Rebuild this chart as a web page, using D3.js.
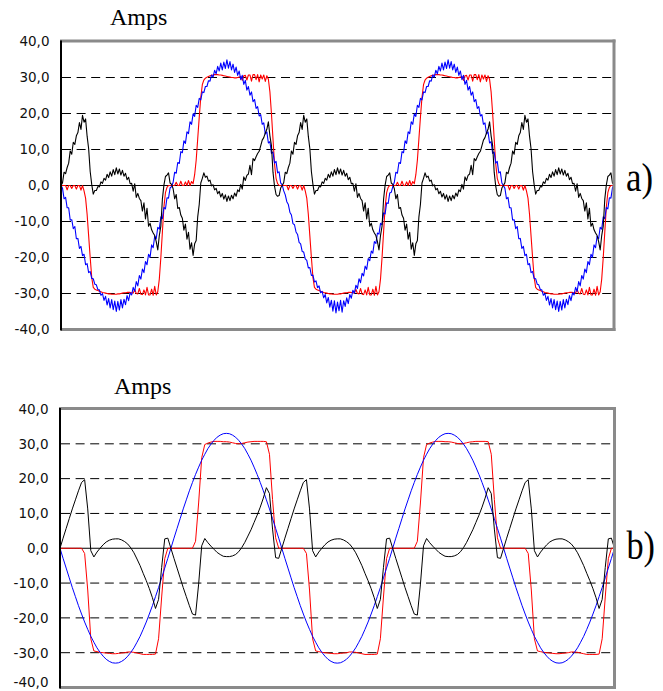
<!DOCTYPE html>
<html><head><meta charset="utf-8">
<script src="https://cdn.jsdelivr.net/npm/d3@7"></script>
<style>html,body{margin:0;padding:0;background:#fff;} svg{display:block;}</style>
</head><body>
<svg id="chart" width="663" height="691"></svg>
<script>
// ---------- data ----------
const yTicks = [-40, -30, -20, -10, 0, 10, 20, 30, 40];
const yTickLabels = ["-40,0", "-30,0", "-20,0", "-10,0", "0,0", "10,0", "20,0", "30,0", "40,0"];
const unitLabel = "Amps";
const panelLabels = ["a)", "b)"];
const angleMax = 900;      // electrical degrees shown (2.5 cycles)
const stepA = 2.5;         // sample step of the measured traces (deg)
const stepB = 5;           // sample step of the simulated traces (deg)

// a) measured currents (Amps), one value every 2.5 deg from 0 to 900
const redA = [
0,0,0,0,-1.2,0,0,-0.8,0,0,-1.0,0,0,-1.3,0,-1.5,-3.5,-8,-14,-20,-25.5,-28.3,-28.8,-29.0,-29.2,-29.4,-29.5,-29.7,-29.8,-29.9,-30.0,-30.1,-30.1,-30.2,-30.2,-30.2,-30.2,-30.1,-30.1,-30.0,-29.9,-29.8,-29.8,-29.7,-29.7,-29.7,-29.8,-29.9,-28.9,-30.0,-30.1,-28.6,-30.2,-30.3,-29.0,-30.4,-28.3,-30.4,-30.4,-28.8,-30.5,-28.0,-30.4,-29.5,-26,-20,-13,-6,-2,-0.5,0,0,
0,0,0,0.9,0,0,1.2,0,0,1.0,0,1.4,0,1.1,0.5,3,7,13,19,24.5,28.0,29.3,29.8,30.1,30.3,30.5,30.6,30.7,30.8,30.8,30.8,30.7,30.7,30.6,30.5,30.4,30.3,30.2,30.1,30.0,30.0,29.9,29.9,30.0,30.1,30.3,29.2,30.5,30.6,29.3,30.7,30.7,29.0,30.8,30.8,29.4,30.8,28.8,30.7,29.6,30.7,28.9,30.5,29.5,26,20,13,6,2,0.5,0,0,
0,0,0,0,-1.2,0,0,-0.8,0,0,-1.0,0,0,-1.3,0,-1.5,-3.5,-8,-14,-20,-25.5,-28.3,-28.8,-29.0,-29.2,-29.4,-29.5,-29.7,-29.8,-29.9,-30.0,-30.1,-30.1,-30.2,-30.2,-30.2,-30.2,-30.1,-30.1,-30.0,-29.9,-29.8,-29.8,-29.7,-29.7,-29.7,-29.8,-29.9,-28.9,-30.0,-30.1,-28.6,-30.2,-30.3,-29.0,-30.4,-28.3,-30.4,-30.4,-28.8,-30.5,-28.0,-30.4,-29.5,-26,-20,-13,-6,-2,-0.5,0,0,
0,0,0,0.9,0,0,1.2,0,0,1.0,0,1.4,0,1.1,0.5,3,7,13,19,24.5,28.0,29.3,29.8,30.1,30.3,30.5,30.6,30.7,30.8,30.8,30.8,30.7,30.7,30.6,30.5,30.4,30.3,30.2,30.1,30.0,30.0,29.9,29.9,30.0,30.1,30.3,29.2,30.5,30.6,29.3,30.7,30.7,29.0,30.8,30.8,29.4,30.8,28.8,30.7,29.6,30.7,28.9,30.5,29.5,26,20,13,6,2,0.5,0,0,
0,0,0,0,-1.2,0,0,-0.8,0,0,-1.0,0,0,-1.3,0,-1.5,-3.5,-8,-14,-20,-25.5,-28.3,-28.8,-29.0,-29.2,-29.4,-29.5,-29.7,-29.8,-29.9,-30.0,-30.1,-30.1,-30.2,-30.2,-30.2,-30.2,-30.1,-30.1,-30.0,-29.9,-29.8,-29.8,-29.7,-29.7,-29.7,-29.8,-29.9,-28.9,-30.0,-30.1,-28.6,-30.2,-30.3,-29.0,-30.4,-28.3,-30.4,-30.4,-28.8,-30.5,-28.0,-30.4,-29.5,-26,-20,-13,-6,-2,-0.5,0,0,
0
];
const blueA = [
0,-0.8,-3.7,-3.3,-6.2,-6.2,-9.6,-9.5,-12.0,-11.4,-14.8,-14.7,-17.5,-16.9,-19.5,-19.1,-22.0,-21.7,-24.2,-23.9,-25.8,-25.9,-27.4,-27.6,-28.9,-29.0,-30.5,-30.0,-31.9,-30.8,-33.2,-31.4,-34.0,-31.7,-34.5,-32.1,-35.0,-32.2,-34.6,-31.7,-34.0,-31.6,-33.1,-30.6,-32.0,-29.8,-30.4,-28.3,-29.4,-26.7,-27.9,-25.0,-26.0,-23.2,-24.2,-21.1,-22.0,-19.1,-19.9,-16.5,-17.3,-14.1,-14.8,-11.6,-12.1,-8.7,-9.2,-6.1,-6.5,-3.4,-3.5,-0.7,
-0.3,0.9,3.7,3.4,6.4,6.1,9.4,9.1,12.4,11.7,14.9,14.4,17.7,17.0,19.9,19.2,22.3,21.7,24.2,23.8,26.0,25.8,27.5,27.5,29.1,29.0,30.7,30.1,32.0,31.0,33.1,31.8,34.0,32.1,34.3,32.5,34.9,32.6,34.4,32.1,33.7,31.4,32.9,30.6,31.8,29.4,30.6,28.1,29.2,26.5,27.5,25.1,26.0,23.3,23.9,21.4,21.9,19.3,19.7,17.0,17.4,14.3,14.9,11.8,12.2,8.9,9.3,6.2,6.7,3.5,3.8,0.7,
0.2,-1.5,-2.6,-4.5,-5.3,-7.4,-8.2,-10.6,-10.9,-12.9,-13.6,-15.8,-16.2,-18.3,-18.5,-20.4,-20.8,-22.9,-22.8,-25.0,-24.9,-26.8,-26.5,-28.4,-27.9,-29.8,-29.4,-31.2,-30.3,-32.6,-31.1,-33.8,-31.9,-34.9,-32.0,-35.4,-32.4,-34.8,-31.9,-35.2,-32.0,-33.6,-31.2,-32.8,-30.3,-31.3,-29.1,-29.9,-27.7,-28.6,-25.9,-27.0,-24.4,-25.1,-22.4,-23.3,-20.3,-20.9,-18.2,-18.8,-15.6,-16.1,-13.2,-13.5,-10.5,-10.9,-7.6,-7.9,-4.8,-5.0,-2.1,-1.9,
-0.3,0.9,3.7,3.4,6.4,6.1,9.4,9.1,12.4,11.7,14.9,14.4,17.7,17.0,19.9,19.2,22.3,21.7,24.2,23.8,26.0,25.8,27.5,27.5,29.1,29.0,30.7,30.1,32.0,31.0,33.1,31.8,34.0,32.1,34.3,32.5,34.9,32.6,34.4,32.1,33.7,31.4,32.9,30.6,31.8,29.4,30.6,28.1,29.2,26.5,27.5,25.1,26.0,23.3,23.9,21.4,21.9,19.3,19.7,17.0,17.4,14.3,14.9,11.8,12.2,8.9,9.3,6.2,6.7,3.5,3.8,0.7,
0,-0.8,-3.7,-3.3,-6.2,-6.2,-9.6,-9.5,-12.0,-11.4,-14.8,-14.7,-17.5,-16.9,-19.5,-19.1,-22.0,-21.7,-24.2,-23.9,-25.8,-25.9,-27.4,-27.6,-28.9,-29.0,-30.5,-30.0,-31.9,-30.8,-33.2,-31.4,-34.0,-31.7,-34.5,-32.1,-35.0,-32.2,-34.6,-31.7,-34.0,-31.6,-33.1,-30.6,-32.0,-29.8,-30.4,-28.3,-29.4,-26.7,-27.9,-25.0,-26.0,-23.2,-24.2,-21.1,-22.0,-19.1,-19.9,-16.5,-17.3,-14.1,-14.8,-11.6,-12.1,-8.7,-9.2,-6.1,-6.5,-3.4,-3.5,-0.7,
0.3
];
const blackA = [
0,0.8,3.7,3.3,5.0,6.2,9.6,8.7,12.0,11.4,13.8,14.7,17.5,15.6,19.5,17.6,18.5,13.7,10.2,3.9,0.3,-2.4,-1.4,-1.4,-0.3,-0.4,1.0,0.6,2.0,1.5,3.1,2.2,3.8,2.6,4.4,3.0,4.9,3.2,4.6,2.9,4.2,2.6,3.4,1.6,2.3,0.5,0.6,-1.6,0.5,-3.3,-2.2,-3.6,-4.2,-7.1,-4.8,-9.3,-6.3,-11.3,-10.5,-12.3,-13.2,-13.9,-15.6,-17.9,-13.9,-11.3,-3.8,0.1,2.5,2.9,3.5,0.7,
0.3,-0.9,-3.7,-2.5,-6.4,-6.1,-8.2,-9.1,-12.4,-10.7,-14.9,-13.0,-17.7,-15.9,-19.4,-16.2,-15.3,-8.7,-5.2,0.7,2.0,3.5,2.3,2.6,1.2,1.5,-0.1,0.2,-1.2,-0.8,-2.3,-1.6,-3.2,-2.2,-3.8,-2.6,-4.4,-2.9,-4.2,-2.7,-3.7,-2.1,-3.0,-1.2,-1.7,0.3,-1.0,2.4,1.4,2.8,3.2,5.6,3.0,7.5,6.9,8.0,8.9,9.5,11.0,12.6,13.3,14.6,15.6,17.7,13.8,11.1,3.7,-0.2,-2.5,-3.0,-2.8,-0.7,
0,0.8,3.7,3.3,5.0,6.2,9.6,8.7,12.0,11.4,13.8,14.7,17.5,15.6,19.5,17.6,18.5,13.7,10.2,3.9,0.3,-2.4,-1.4,-1.4,-0.3,-0.4,1.0,0.6,2.0,1.5,3.1,2.2,3.8,2.6,4.4,3.0,4.9,3.2,4.6,2.9,4.2,2.6,3.4,1.6,2.3,0.5,0.6,-1.6,0.5,-3.3,-2.2,-3.6,-4.2,-7.1,-4.8,-9.3,-6.3,-11.3,-10.5,-12.3,-13.2,-13.9,-15.6,-17.9,-13.9,-11.3,-3.8,0.1,2.5,2.9,3.5,0.7,
0.3,-0.9,-3.7,-2.5,-6.4,-6.1,-8.2,-9.1,-12.4,-10.7,-14.9,-13.0,-17.7,-15.9,-19.4,-16.2,-15.3,-8.7,-5.2,0.7,2.0,3.5,2.3,2.6,1.2,1.5,-0.1,0.2,-1.2,-0.8,-2.3,-1.6,-3.2,-2.2,-3.8,-2.6,-4.4,-2.9,-4.2,-2.7,-3.7,-2.1,-3.0,-1.2,-1.7,0.3,-1.0,2.4,1.4,2.8,3.2,5.6,3.0,7.5,6.9,8.0,8.9,9.5,11.0,12.6,13.3,14.6,15.6,17.7,13.8,11.1,3.7,-0.2,-2.5,-3.0,-2.8,-0.7,
0,0.8,3.7,3.3,5.0,6.2,9.6,8.7,12.0,11.4,13.8,14.7,17.5,15.6,19.5,17.6,18.5,13.7,10.2,3.9,0.3,-2.4,-1.4,-1.4,-0.3,-0.4,1.0,0.6,2.0,1.5,3.1,2.2,3.8,2.6,4.4,3.0,4.9,3.2,4.6,2.9,4.2,2.6,3.4,1.6,2.3,0.5,0.6,-1.6,0.5,-3.3,-2.2,-3.6,-4.2,-7.1,-4.8,-9.3,-6.3,-11.3,-10.5,-12.3,-13.2,-13.9,-15.6,-17.9,-13.9,-11.3,-3.8,0.1,2.5,2.9,3.5,0.7,
0.3
];

// b) simulated currents (Amps), one value every 5 deg from 0 to 900
const redB = [
0,0,0,0,0,0,0,0,-1.5,-12,-26,-29.5,-29.7,-29.9,-30.0,-30.1,-30.2,-30.3,-30.3,-30.2,-30.1,-30.0,-29.8,-29.8,-29.9,-30.1,-30.3,-30.5,-30.5,-30.5,-30.5,-30.4,-26,-14,-3,0,
0,0,0,0,0,0,0,0,2,13,26,29.8,30.2,30.5,30.7,30.7,30.7,30.6,30.6,30.5,30.3,30.1,30.0,30.1,30.3,30.5,30.6,30.7,30.7,30.7,30.7,30.6,27,14,3,0,
0,0,0,0,0,0,0,0,-1.5,-12,-26,-29.5,-29.7,-29.9,-30.0,-30.1,-30.2,-30.3,-30.3,-30.2,-30.1,-30.0,-29.8,-29.8,-29.9,-30.1,-30.3,-30.5,-30.5,-30.5,-30.5,-30.4,-26,-14,-3,0,
0,0,0,0,0,0,0,0,2,13,26,29.8,30.2,30.5,30.7,30.7,30.7,30.6,30.6,30.5,30.3,30.1,30.0,30.1,30.3,30.5,30.6,30.7,30.7,30.7,30.7,30.6,27,14,3,0,
0,0,0,0,0,0,0,0,-1.5,-12,-26,-29.5,-29.7,-29.9,-30.0,-30.1,-30.2,-30.3,-30.3,-30.2,-30.1,-30.0,-29.8,-29.8,-29.9,-30.1,-30.3,-30.5,-30.5,-30.5,-30.5,-30.4,-26,-14,-3,0,
0
];
const blueB = [
0,-2.9,-5.7,-8.5,-11.3,-13.9,-16.5,-18.9,-21.2,-23.3,-25.3,-27.0,-28.6,-29.9,-31.0,-31.9,-32.5,-32.9,-33.0,-32.9,-32.5,-31.9,-31.0,-29.9,-28.6,-27.0,-25.3,-23.3,-21.2,-18.9,-16.5,-13.9,-11.3,-8.5,-5.7,-2.9,
0,2.9,5.7,8.5,11.3,13.9,16.5,18.9,21.2,23.3,25.3,27.0,28.6,29.9,31.0,31.9,32.5,32.9,33.0,32.9,32.5,31.9,31.0,29.9,28.6,27.0,25.3,23.3,21.2,18.9,16.5,13.9,11.3,8.5,5.7,2.9,
0,-2.9,-5.7,-8.5,-11.3,-13.9,-16.5,-18.9,-21.2,-23.3,-25.3,-27.0,-28.6,-29.9,-31.0,-31.9,-32.5,-32.9,-33.0,-32.9,-32.5,-31.9,-31.0,-29.9,-28.6,-27.0,-25.3,-23.3,-21.2,-18.9,-16.5,-13.9,-11.3,-8.5,-5.7,-2.9,
0,2.9,5.7,8.5,11.3,13.9,16.5,18.9,21.2,23.3,25.3,27.0,28.6,29.9,31.0,31.9,32.5,32.9,33.0,32.9,32.5,31.9,31.0,29.9,28.6,27.0,25.3,23.3,21.2,18.9,16.5,13.9,11.3,8.5,5.7,2.9,
0,-2.9,-5.7,-8.5,-11.3,-13.9,-16.5,-18.9,-21.2,-23.3,-25.3,-27.0,-28.6,-29.9,-31.0,-31.9,-32.5,-32.9,-33.0,-32.9,-32.5,-31.9,-31.0,-29.9,-28.6,-27.0,-25.3,-23.3,-21.2,-18.9,-16.5,-13.9,-11.3,-8.5,-5.7,-2.9,
0
];
const blackB = [
0,2.9,5.7,8.5,11.3,13.9,16.5,18.9,19.7,11.3,-0.7,-2.5,-1.1,0.0,1.0,1.8,2.3,2.6,2.7,2.7,2.4,1.9,1.2,0.1,-1.3,-3.1,-5.0,-7.2,-9.3,-11.6,-14.2,-17.3,-14.7,-5.5,2.7,2.9,
0,-2.9,-5.7,-8.5,-11.3,-13.9,-16.5,-18.9,-19.2,-10.3,0.7,2.8,1.6,0.6,-0.3,-1.2,-1.8,-2.3,-2.4,-2.4,-2.2,-1.8,-1.0,0.2,1.7,3.5,5.3,7.4,9.5,11.8,14.4,17.4,15.7,5.5,-2.7,-2.9,
0,2.9,5.7,8.5,11.3,13.9,16.5,18.9,19.7,11.3,-0.7,-2.5,-1.1,0.0,1.0,1.8,2.3,2.6,2.7,2.7,2.4,1.9,1.2,0.1,-1.3,-3.1,-5.0,-7.2,-9.3,-11.6,-14.2,-17.3,-14.7,-5.5,2.7,2.9,
0,-2.9,-5.7,-8.5,-11.3,-13.9,-16.5,-18.9,-19.2,-10.3,0.7,2.8,1.6,0.6,-0.3,-1.2,-1.8,-2.3,-2.4,-2.4,-2.2,-1.8,-1.0,0.2,1.7,3.5,5.3,7.4,9.5,11.8,14.4,17.4,15.7,5.5,-2.7,-2.9,
0,2.9,5.7,8.5,11.3,13.9,16.5,18.9,19.7,11.3,-0.7,-2.5,-1.1,0.0,1.0,1.8,2.3,2.6,2.7,2.7,2.4,1.9,1.2,0.1,-1.3,-3.1,-5.0,-7.2,-9.3,-11.6,-14.2,-17.3,-14.7,-5.5,2.7,2.9,
0
];

// ---------- drawing ----------
const svg = d3.select("#chart");
svg.append("rect").attr("width", 663).attr("height", 691).attr("fill", "#fff");

const panels = [
  { label: panelLabels[0], step: stepA, series: [redA, blueA, blackA], lw: 1.1,
    left: 61, right: 614, top: 41.5, bottom: 329.5,
    unitX: 110, unitY: 25, tagX: 626, tagY: 191, tagW: 27 },
  { label: panelLabels[1], step: stepB, series: [redB, blueB, blackB], lw: 1,
    left: 60, right: 614.5, top: 409, bottom: 687.5,
    unitX: 114, unitY: 394, tagX: 626.5, tagY: 559, tagW: 28.5 }
];
const colors = ["#ff0000", "#0000ff", "#000000"];

panels.forEach((p, pi) => {
  const x = d3.scaleLinear().domain([0, angleMax]).range([p.left, p.right]);
  const y = d3.scaleLinear().domain([-40, 40]).range([p.bottom, p.top]);
  const g = svg.append("g");

  // dashed grid lines
  g.selectAll("line.grid").data(yTicks.filter(v => v !== 0 && Math.abs(v) !== 40)).join("line")
    .attr("x1", p.left + 1).attr("x2", p.right - 1)
    .attr("y1", d => y(d)).attr("y2", d => y(d))
    .attr("stroke", "#000").attr("stroke-width", 1)
    .attr("stroke-dasharray", "9,5.6");

  // zero line
  g.append("line").attr("x1", p.left).attr("x2", p.right)
    .attr("y1", y(0)).attr("y2", y(0)).attr("stroke", "#000").attr("stroke-width", 1);

  // clip
  const cid = "clip" + pi;
  svg.append("clipPath").attr("id", cid).append("rect")
    .attr("x", p.left).attr("y", p.top).attr("width", p.right - p.left).attr("height", p.bottom - p.top);

  const line = d3.line().x((d, i) => x(i * p.step)).y(d => y(d));
  const sg = g.append("g").attr("clip-path", `url(#${cid})`);
  p.series.forEach((s, si) => {
    sg.append("path").datum(s).attr("d", line)
      .attr("fill", "none").attr("stroke", colors[si])
      .attr("stroke-width", p.lw).attr("stroke-linejoin", "round");
  });

  // frame: gray top/right/bottom, black left axis
  const gray = "#8a8a8a";
  g.append("line").attr("x1", p.left - 1).attr("x2", p.right + 1.5).attr("y1", p.top - 0.5).attr("y2", p.top - 0.5)
    .attr("stroke", gray).attr("stroke-width", 3);
  g.append("line").attr("x1", p.right).attr("x2", p.right).attr("y1", p.top - 2).attr("y2", p.bottom + 1.5)
    .attr("stroke", gray).attr("stroke-width", 3);
  g.append("line").attr("x1", p.left).attr("x2", p.right + 1.5).attr("y1", p.bottom).attr("y2", p.bottom)
    .attr("stroke", gray).attr("stroke-width", 3);
  g.append("line").attr("x1", p.left).attr("x2", p.left).attr("y1", p.top - 1).attr("y2", p.bottom + 1)
    .attr("stroke", "#000").attr("stroke-width", 2);

  // y axis labels
  const ax = d3.axisLeft(y).tickValues(yTicks).tickFormat((d, i) => yTickLabels[i]).tickSize(0).tickPadding(11.5);
  const ag = g.append("g").attr("transform", `translate(${p.left},0)`).call(ax);
  ag.select(".domain").remove();
  ag.selectAll("text").attr("font-family", "'DejaVu Sans', sans-serif").attr("font-size", "13.5px").attr("fill", "#111");
  // keep the lowest label of the lower panel fully inside the page
  if (y(-40) > 682) {
    ag.selectAll(".tick").filter(d => d === -40).select("text").attr("y", 682 - y(-40));
  }

  // unit label and panel tag
  g.append("text").attr("x", p.unitX).attr("y", p.unitY).text(unitLabel)
    .attr("font-family", "'Liberation Serif', 'Times New Roman', serif").attr("font-size", "24px").attr("fill", "#000");
  g.append("text").attr("x", p.tagX).attr("y", p.tagY).text(p.label)
    .attr("font-family", "'Liberation Serif', 'Times New Roman', serif").attr("font-size", "40px").attr("fill", "#000")
    .attr("textLength", p.tagW).attr("lengthAdjust", "spacingAndGlyphs");
});
</script>
</body></html>
